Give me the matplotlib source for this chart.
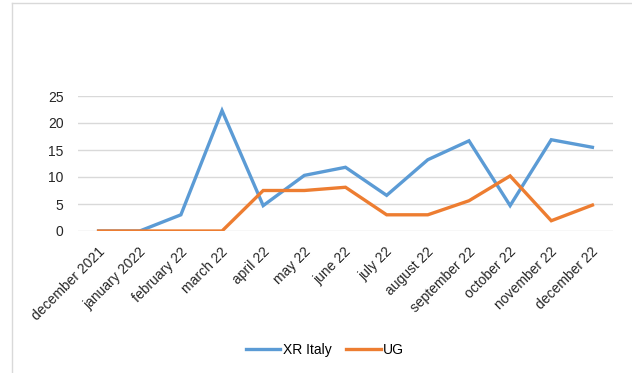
import matplotlib
matplotlib.use("Agg")
import matplotlib.pyplot as plt
from matplotlib.lines import Line2D
from matplotlib.transforms import ScaledTranslation

months = ['december 2021', 'january 2022', 'february 22', 'march 22', 'april 22',
          'may 22', 'june 22', 'july 22', 'august 22', 'september 22',
          'october 22', 'november 22', 'december 22']
xr_italy = [0, 0, 3, 22.3, 4.7, 10.3, 11.8, 6.6, 13.2, 16.7, 4.7, 16.9, 15.5]
ug = [0, 0, 0, 0, 7.5, 7.5, 8.1, 3.0, 3.0, 5.6, 10.2, 1.9, 4.8]

plt.rcParams['font.family'] = ['Liberation Sans', 'DejaVu Sans']

fig = plt.figure(figsize=(6.32, 3.73), dpi=100)
ax = fig.add_axes([78/632, 1-231/373, (613-78)/632, (231-96)/373])

x = range(len(months))
ax.plot(x, xr_italy, color='#5B9BD5', lw=2.4, label='XR Italy', solid_joinstyle='miter')
ax.plot(x, ug, color='#ED7D31', lw=2.4, label='UG', solid_joinstyle='miter')

ax.set_xlim(-0.5, len(months) - 0.5)
ax.set_ylim(0, 25)
ax.set_yticks([0, 5, 10, 15, 20, 25])
ax.yaxis.grid(True, color='#D9D9D9', lw=1)
ax.set_axisbelow(True)
for s in ax.spines.values():
    s.set_visible(False)
ax.tick_params(length=0, labelsize=10, colors='#262626')
ax.tick_params(axis='y', pad=10.5)
ax.set_xticks(list(x))
ax.set_xticklabels(months, rotation=45, ha='right', va='top', rotation_mode='anchor', fontsize=10)
# nudge rotated labels to sit like the original
shift = ScaledTranslation(-1/100, -9/100, fig.dpi_scale_trans)
for lbl in ax.get_xticklabels():
    lbl.set_transform(lbl.get_transform() + shift)

handles = [Line2D([], [], color='#5B9BD5', lw=2.4), Line2D([], [], color='#ED7D31', lw=2.4)]
fig.legend(handles, ['XR Italy', 'UG'], loc='center', bbox_to_anchor=(325/632, 1-350/373),
           ncol=2, frameon=False, fontsize=10, handlelength=2.5, handletextpad=0.2,
           columnspacing=1.0)

# chart frame (top and left edges)
fig.add_artist(Line2D([12/632, 1], [1-3/373]*2, color='#D9D9D9', lw=1))
fig.add_artist(Line2D([12/632]*2, [0, 1-3/373], color='#D9D9D9', lw=1))

fig.savefig('out.png', dpi=100)
